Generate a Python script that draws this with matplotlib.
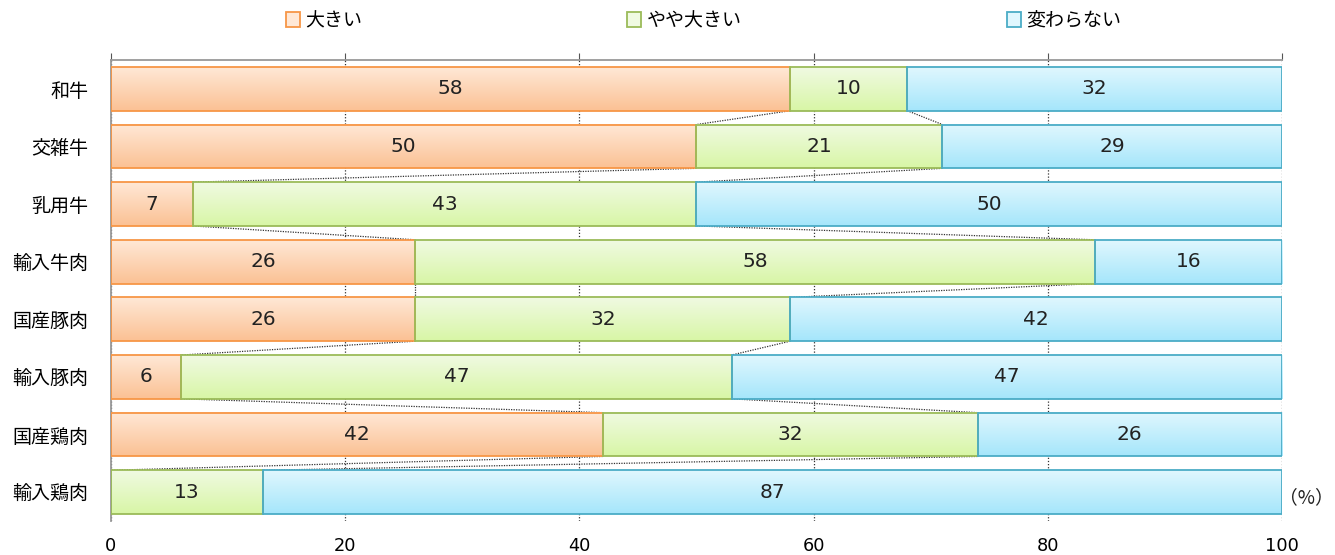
import numpy as np
import matplotlib
matplotlib.use("Agg")
import matplotlib.pyplot as plt
from matplotlib.patches import Rectangle, Patch
from matplotlib.colors import to_rgb

plt.rcParams["font.family"] = ["Noto Sans CJK JP", "DejaVu Sans"]

# ------------------------------------------------------------------ data
categories = ["和牛", "交雑牛", "乳用牛", "輸入牛肉", "国産豚肉", "輸入豚肉", "国産鶏肉", "輸入鶏肉"]
series_names = ["大きい", "やや大きい", "変わらない"]
big = [58, 50, 7, 26, 26, 6, 42, 0]
rather_big = [10, 21, 43, 58, 32, 47, 32, 13]
unchanged = [32, 29, 50, 16, 42, 47, 26, 87]
x_ticks = [0, 20, 40, 60, 80, 100]

# (edge, gradient top, gradient bottom)
STYLE = [("#F79646", "#FFE8D6", "#FBC194"),
         ("#9BBB59", "#F0FAE2", "#D8F6A6"),
         ("#4BACC6", "#E0F7FE", "#A5E6FB")]
BAR_H = 0.76


def gradient_bar(ax, left, width, y, edge, c_top, c_bot):
    if width <= 0:
        return
    t = np.linspace(0, 1, 64)[:, None, None]
    img = (1 - t) * np.array(to_rgb(c_top)) + t * np.array(to_rgb(c_bot))
    ax.imshow(img, extent=[left, left + width, y + BAR_H / 2, y - BAR_H / 2],
              aspect="auto", interpolation="bilinear", zorder=2)
    ax.add_patch(Rectangle((left, y - BAR_H / 2), width, BAR_H, fill=False,
                           edgecolor=edge, lw=1.3, zorder=3))


fig = plt.figure(figsize=(13.35, 5.55), dpi=100)
ax = fig.add_axes([0.0831, 0.0613, 0.8772, 0.8306])

values = [big, rather_big, unchanged]
ypos = np.arange(len(categories))
for i, y in enumerate(ypos):
    left = 0
    for s, vals in enumerate(values):
        v = vals[i]
        edge, ct, cb = STYLE[s]
        gradient_bar(ax, left, v, y, edge, ct, cb)
        if v > 0:
            ax.text(left + v / 2, y, str(v), ha="center", va="center",
                    fontsize=14.5, family="DejaVu Sans", color="#222222", zorder=4)
        left += v

# dotted series lines between neighbouring bars
b1 = np.array(big)
b2 = b1 + np.array(rather_big)
for bnd in (b1, b2):
    for i in range(len(categories) - 1):
        ax.plot([bnd[i], bnd[i + 1]], [i + BAR_H / 2, i + 1 - BAR_H / 2],
                ls=(0, (1, 1)), color="#333333", lw=0.9, zorder=1)

ax.set_xlim(0, 100)
ax.set_ylim(len(categories) - 0.5, -0.5)
ax.set_xticks(x_ticks)
ax.set_xticklabels([str(t) for t in x_ticks], family="DejaVu Sans", fontsize=12.8)
ax.set_yticks(ypos)
ax.set_yticklabels(categories, fontsize=13.7)
ax.xaxis.grid(True, ls=(0, (1, 1.5)), color="#333333", lw=0.9)
ax.set_axisbelow(True)
for side in ("right", "bottom"):
    ax.spines[side].set_visible(False)
for side in ("top", "left"):
    ax.spines[side].set_color("#999999")
    ax.spines[side].set_linewidth(1.3)
ax.tick_params(axis="x", bottom=False, top=True, labelbottom=True, labeltop=False,
               direction="out", length=5, color="#555555", pad=6.5)
ax.tick_params(axis="y", left=False, length=0, pad=16)

fig.text(0.999, 0.104, "（%）", ha="right", va="center",
         fontsize=13.5, family="Noto Sans CJK JP", color="#222222")

handles = [Patch(facecolor=ct, edgecolor=edge, lw=1.3) for edge, ct, cb in STYLE]
fig.legend(handles, series_names, loc="center left", bbox_to_anchor=(0.214, 0.963),
           ncol=3, frameon=False, fontsize=13.7, handlelength=0.75, handleheight=0.9,
           handletextpad=0.3, columnspacing=13.9, borderaxespad=0, borderpad=0)

fig.savefig("out.png", dpi=100)
